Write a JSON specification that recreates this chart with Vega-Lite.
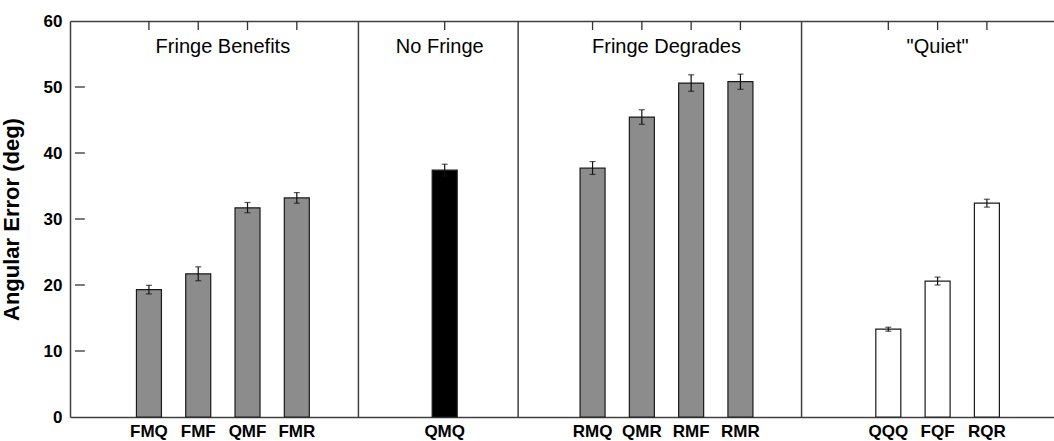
{
  "$schema": "https://vega.github.io/schema/vega-lite/v6.json",
  "width": 984,
  "height": 396,
  "autosize": {"type": "none"},
  "padding": {"left": 70, "top": 21, "right": 0, "bottom": 24},
  "background": "white",
  "config": {
    "view": {"stroke": null},
    "font": "Liberation Sans",
    "axis": {"domainColor": "#404040", "domainWidth": 1.5, "grid": false}
  },
  "datasets": {
    "bars": [
      {"name": "FMQ", "group": "Fringe Benefits", "pos": 0, "value": 19.3, "lo": 18.65, "hi": 19.95},
      {"name": "FMF", "group": "Fringe Benefits", "pos": 1, "value": 21.7, "lo": 20.65, "hi": 22.75},
      {"name": "QMF", "group": "Fringe Benefits", "pos": 2, "value": 31.7, "lo": 30.95, "hi": 32.5},
      {"name": "FMR", "group": "Fringe Benefits", "pos": 3, "value": 33.2, "lo": 32.4, "hi": 34.0},
      {"name": "QMQ", "group": "No Fringe", "pos": 6, "value": 37.4, "lo": 36.5, "hi": 38.3},
      {"name": "RMQ", "group": "Fringe Degrades", "pos": 9, "value": 37.7, "lo": 36.75, "hi": 38.7},
      {"name": "QMR", "group": "Fringe Degrades", "pos": 10, "value": 45.45, "lo": 44.35, "hi": 46.55},
      {"name": "RMF", "group": "Fringe Degrades", "pos": 11, "value": 50.6, "lo": 49.35, "hi": 51.85},
      {"name": "RMR", "group": "Fringe Degrades", "pos": 12, "value": 50.8, "lo": 49.65, "hi": 51.95},
      {"name": "QQQ", "group": "Quiet", "pos": 15, "value": 13.3, "lo": 13.0, "hi": 13.6},
      {"name": "FQF", "group": "Quiet", "pos": 16, "value": 20.6, "lo": 20.0, "hi": 21.2},
      {"name": "RQR", "group": "Quiet", "pos": 17, "value": 32.4, "lo": 31.8, "hi": 33.0}
    ],
    "seps": [{"x": 4.25}, {"x": 7.49}, {"x": 13.24}],
    "yticks": [{"v": 10}, {"v": 20}, {"v": 30}, {"v": 40}, {"v": 50}],
    "groups": [
      {"title": "Fringe Benefits", "pos": 1.5},
      {"title": "No Fringe", "pos": 5.9},
      {"title": "Fringe Degrades", "pos": 10.5},
      {"title": "\"Quiet\"", "pos": 16}
    ]
  },
  "layer": [
    {
      "data": {"name": "seps"},
      "mark": {"type": "rule", "color": "#404040", "strokeWidth": 1.5},
      "encoding": {
        "x": {
          "field": "x", "type": "quantitative",
          "scale": {"domain": [-1.5, 18.26], "nice": false, "zero": false},
          "axis": {"orient": "top", "labels": false, "ticks": false, "title": null}
        }
      }
    },
    {
      "data": {"name": "bars"},
      "mark": {"type": "rule", "color": "#333333", "strokeWidth": 1.3},
      "encoding": {
        "x": {"field": "pos", "type": "quantitative", "axis": null},
        "y": {"datum": 60, "type": "quantitative"},
        "y2": {"datum": 58.64}
      }
    },
    {
      "data": {"name": "yticks"},
      "mark": {"type": "rule", "color": "#333333", "strokeWidth": 1.3},
      "encoding": {
        "x": {"datum": -1.5, "type": "quantitative", "axis": null},
        "x2": {"datum": -1.3},
        "y": {"field": "v", "type": "quantitative"}
      }
    },
    {
      "data": {"name": "bars"},
      "mark": {"type": "bar", "size": 25, "stroke": "#1a1a1a", "strokeWidth": 1.2},
      "encoding": {
        "x": {"field": "pos", "type": "quantitative", "axis": {"orient": "bottom", "labels": false, "ticks": false, "title": null}},
        "y": {
          "field": "value", "type": "quantitative",
          "scale": {"domain": [0, 60], "nice": false},
          "axis": {
            "title": "Angular Error (deg)", "values": [0, 10, 20, 30, 40, 50, 60],
            "ticks": false, "labelFontSize": 17, "labelFontWeight": "bold", "labelColor": "black",
            "labelPadding": 8, "labelFlush": false,
            "titleFontSize": 22, "titleFontWeight": "bold", "titleColor": "black", "titlePadding": 20
          }
        },
        "color": {
          "field": "group", "type": "nominal",
          "scale": {"domain": ["Fringe Benefits", "No Fringe", "Fringe Degrades", "Quiet"], "range": ["#8c8c8c", "#000000", "#8c8c8c", "#ffffff"]},
          "legend": null
        }
      }
    },
    {
      "data": {"name": "bars"},
      "mark": {"type": "errorbar", "color": "#111111", "ticks": {"size": 6, "thickness": 1.2}, "rule": {"strokeWidth": 1.2}},
      "encoding": {
        "x": {"field": "pos", "type": "quantitative", "axis": null},
        "y": {"field": "lo", "type": "quantitative", "title": "Angular Error (deg)"},
        "y2": {"field": "hi"}
      }
    },
    {
      "data": {"name": "bars"},
      "mark": {"type": "text", "baseline": "alphabetic", "dy": 20, "fontSize": 17, "fontWeight": "bold", "color": "black"},
      "encoding": {
        "x": {"field": "pos", "type": "quantitative", "axis": null},
        "y": {"datum": 0},
        "text": {"field": "name"}
      }
    },
    {
      "data": {"name": "groups"},
      "mark": {"type": "text", "baseline": "alphabetic", "fontSize": 20, "color": "black"},
      "encoding": {
        "x": {"field": "pos", "type": "quantitative", "axis": null},
        "y": {"datum": 55.1},
        "text": {"field": "title"}
      }
    }
  ],
  "resolve": {"axis": {"x": "independent"}}
}
